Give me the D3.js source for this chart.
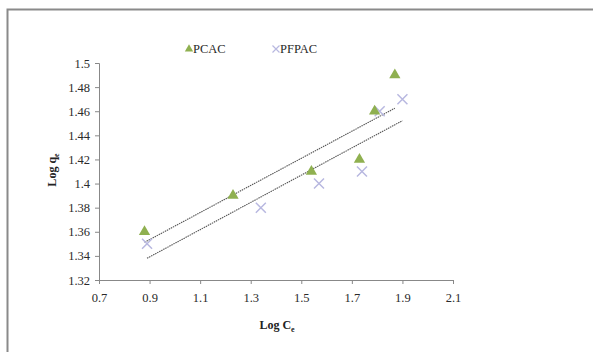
<!DOCTYPE html>
<html>
<head>
<meta charset="utf-8">
<script src="https://cdn.jsdelivr.net/npm/d3@7"></script>
<style>
  body { margin: 0; background: #fff; }
  svg { display: block; font-family: "Liberation Serif", "Times New Roman", serif; }
</style>
</head>
<body>
<div id="chart"></div>
<script>
var svgWidth = 593;
var svgHeight = 352;

var margin = { top: 63, bottom: 72, right: 140, left: 99 };
var width = svgWidth - margin.left - margin.right;
var height = svgHeight - margin.top - margin.bottom;

// data
var pcacX = [0.88, 1.23, 1.54, 1.73, 1.79, 1.87];
var pcacY = [1.36, 1.39, 1.41, 1.42, 1.46, 1.49];
var pfpacX = [0.89, 1.34, 1.57, 1.74, 1.81, 1.90];
var pfpacY = [1.35, 1.38, 1.40, 1.41, 1.46, 1.47];
var xTicks = [0.7, 0.9, 1.1, 1.3, 1.5, 1.7, 1.9, 2.1];
var yTicks = [1.32, 1.34, 1.36, 1.38, 1.4, 1.42, 1.44, 1.46, 1.48, 1.5];
var seriesNames = ["PCAC", "PFPAC"];

var svg = d3.select("#chart").append("svg")
  .attr("width", svgWidth)
  .attr("height", svgHeight);

// outer frame
svg.append("path")
  .attr("d", "M7.5," + svgHeight + " V9.5 H" + svgWidth)
  .attr("fill", "none")
  .attr("stroke", "#8a8a8a")
  .attr("stroke-width", 2);

var chartGroup = svg.append("g")
  .attr("transform", `translate(${margin.left}, ${margin.top})`);

var x = d3.scaleLinear().domain([0.7, 2.1]).range([0, width]);
var y = d3.scaleLinear().domain([1.32, 1.5]).range([height, 0]);

var xAxis = d3.axisBottom(x).tickValues(xTicks).tickSize(4).tickFormat(d => String(+d.toFixed(2)));
var yAxis = d3.axisLeft(y).tickValues(yTicks).tickSize(4).tickFormat(d => String(+d.toFixed(2)));

var gx = chartGroup.append("g").attr("transform", `translate(0, ${height})`).call(xAxis);
var gy = chartGroup.append("g").call(yAxis);

[gx, gy].forEach(function(g) {
  g.attr("font-family", "Liberation Serif, serif").attr("font-size", 12.5);
  g.select(".domain").attr("stroke", "#888");
  g.selectAll(".tick line").attr("stroke", "#888");
  g.selectAll("text").attr("fill", "#2a2a2a");
});
gx.selectAll("text").attr("dy", "1.2em");
gy.selectAll("text").attr("x", -9);

// least squares trendline like the spreadsheet one
function fit(xs, ys) {
  var mx = d3.mean(xs), my = d3.mean(ys);
  var sxy = d3.sum(xs, (v, i) => (v - mx) * (ys[i] - my));
  var sxx = d3.sum(xs, v => (v - mx) * (v - mx));
  var b = sxy / sxx;
  var a = my - b * mx;
  var x0 = d3.min(xs), x1 = d3.max(xs);
  return [[x0, a + b * x0], [x1, a + b * x1]];
}

var line = d3.line().x(d => x(d[0])).y(d => y(d[1]));

[[pcacX, pcacY], [pfpacX, pfpacY]].forEach(function(s) {
  chartGroup.append("path")
    .datum(fit(s[0], s[1]))
    .attr("d", line)
    .attr("fill", "none")
    .attr("stroke", "#555")
    .attr("stroke-width", 1.1)
    .attr("stroke-dasharray", "1.5,0.8");
});

var tri = d3.symbol().type(d3.symbolTriangle).size(55);
var greenColor = "#8fb050";
var crossColor = "#b8b8e0";

function cross(cx, cy, r) {
  return `M${cx - r},${cy - r}L${cx + r},${cy + r}M${cx - r},${cy + r}L${cx + r},${cy - r}`;
}

chartGroup.selectAll(".pfpac")
  .data(pfpacX.map((v, i) => [v, pfpacY[i]]))
  .enter().append("path")
  .attr("class", "pfpac")
  .attr("d", d => cross(x(d[0]), y(d[1]), 5))
  .attr("stroke", crossColor)
  .attr("stroke-width", 1.5)
  .attr("fill", "none");

chartGroup.selectAll(".pcac")
  .data(pcacX.map((v, i) => [v, pcacY[i]]))
  .enter().append("path")
  .attr("class", "pcac")
  .attr("transform", d => `translate(${x(d[0])}, ${y(d[1])})`)
  .attr("d", tri)
  .attr("fill", greenColor);

// legend
var legend = svg.append("g");
legend.append("path")
  .attr("transform", "translate(189, 49)")
  .attr("d", d3.symbol().type(d3.symbolTriangle).size(30))
  .attr("fill", greenColor);
legend.append("text")
  .attr("x", 193).attr("y", 53)
  .style("font-size", "12.5px").attr("fill", "#2a2a2a")
  .text(seriesNames[0]);
legend.append("path")
  .attr("d", cross(276, 49, 3.5))
  .attr("stroke", crossColor)
  .attr("stroke-width", 1.2);
legend.append("text")
  .attr("x", 280).attr("y", 53)
  .style("font-size", "12.5px").attr("fill", "#2a2a2a")
  .text(seriesNames[1]);

// axis titles
var xt = svg.append("text")
  .attr("x", 277).attr("y", 329)
  .attr("text-anchor", "middle")
  .style("font-size", "12px").style("font-weight", "bold").attr("fill", "#222");
xt.append("tspan").text("Log C");
xt.append("tspan").attr("dy", 3).style("font-size", "8px").text("e");

var yt = svg.append("text")
  .attr("transform", "translate(56, 170) rotate(-90)")
  .attr("text-anchor", "middle")
  .style("font-size", "12px").style("font-weight", "bold").attr("fill", "#222");
yt.append("tspan").text("Log q");
yt.append("tspan").attr("dy", 3).style("font-size", "8px").text("e");
</script>
</body>
</html>
